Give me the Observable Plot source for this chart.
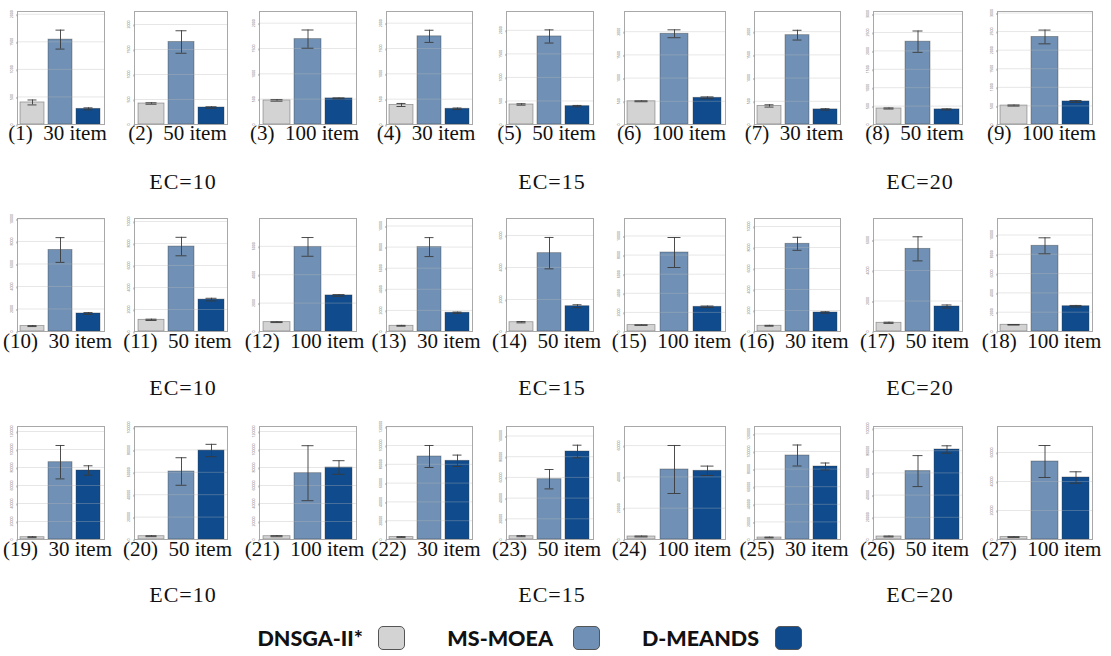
<!DOCTYPE html>
<html><head><meta charset="utf-8">
<script src="https://cdn.jsdelivr.net/npm/d3@7"></script>
<script src="https://cdn.jsdelivr.net/npm/@observablehq/plot@0.6"></script>
<style>
body{margin:0;background:#fff;}
#root{position:relative;width:1111px;height:656px;overflow:hidden;background:#fff;}
.panel{position:absolute;}
.cap{position:absolute;font-family:"Liberation Serif",serif;font-size:21px;line-height:21px;white-space:pre;transform:translateX(-50%);color:#111;}
.ec{position:absolute;font-family:"Liberation Serif",serif;font-size:22px;line-height:22px;letter-spacing:1px;white-space:pre;transform:translateX(-50%);color:#111;}
.lgtext{position:absolute;font-family:Lato,"Open Sans",sans-serif;font-weight:900;font-size:21.5px;line-height:24px;color:#111;white-space:nowrap;}
.sw{position:absolute;width:27px;height:24px;border:1.5px solid #555;border-radius:5px;box-sizing:border-box;}
</style></head><body><div id="root"></div>
<script>
const algorithms = ["DNSGA-II*", "MS-MOEA", "D-MEANDS"];
const itemSizes = ["30 item", "50 item", "100 item"];
const ecLabels = ["EC=10", "EC=15", "EC=20"];

// y-axis top value and tick step for each of the 27 sub-charts
const axisMax = [2050, 2260, 2230, 2230, 2400, 2435, 2435, 3070, 3040,
  10040, 10270, 7960, 10710, 7060, 11830, 10760, 7410, 11710,
  125560, 100890, 125560, 120210, 109180, 72200, 128410, 101800, 77930];
const tickStep = [500, 500, 500, 500, 500, 500, 500, 500, 500,
  2000, 2000, 2000, 2000, 2000, 2000, 2000, 2000, 2000,
  20000, 20000, 20000, 20000, 20000, 20000, 20000, 20000, 20000];

const dnsgaMean = [400, 420, 475, 385, 425, 500, 400, 435, 510,
  480, 1060, 660, 540, 580, 670, 545, 570, 695,
  2560, 2950, 3670, 2550, 3190, 1920, 2270, 2700, 1655];
const dnsgaErr = [45, 15, 15, 30, 15, 10, 25, 15, 15,
  40, 60, 30, 40, 40, 30, 40, 40, 30,
  500, 400, 600, 500, 500, 300, 400, 400, 300];
const msMean = [1540, 1650, 1685, 1740, 1870, 1955, 1925, 2250, 2355,
  7240, 7720, 5960, 8000, 4895, 8270, 8350, 5420, 8880,
  85890, 60710, 73670, 88300, 58260, 44730, 95450, 61620, 53790];
const msErr = [172, 225, 180, 120, 140, 85, 105, 290, 185,
  1100, 840, 660, 900, 980, 1570, 620, 790, 830,
  18560, 12300, 30560, 11700, 9370, 15340, 11930, 13960, 11030];
const dmMean = [284, 340, 515, 310, 390, 575, 325, 410, 620,
  1600, 2900, 2540, 1780, 1580, 2585, 1810, 1640, 2620,
  76670, 79460, 80000, 83720, 85020, 43900, 82950, 81080, 42760];
const dmErr = [18, 15, 10, 15, 15, 20, 15, 15, 25,
  80, 120, 60, 60, 90, 80, 70, 100, 80,
  5220, 5500, 7560, 6060, 6090, 3000, 3980, 3330, 3930];

const colors = ["#d3d3d3", "#7091b5", "#0f4b8d"];

// layout
const colLeft = [17, 134, 259, 386, 506, 624, 754, 873, 997];
const colRight = [104, 227, 356, 472, 593, 725, 840, 962, 1092];
const rowTop = [11, 217.5, 426];
const capBase = [141, 349, 557];
const ecBase = [189, 395, 602];
const H = 113, mL = 12, mR = 1, mT = 1, mB = 1;

const root = document.getElementById("root");
const means = [dnsgaMean, msMean, dmMean];
const errs = [dnsgaErr, msErr, dmErr];

for (let i = 0; i < 27; i++) {
  const r = Math.floor(i / 9), c = i % 9;
  const data = algorithms.map((a, k) => ({alg: a, mean: means[k][i], err: errs[k][i]}));
  const ticks = d3.range(0, axisMax[i] + 1e-6, tickStep[i]);
  const w = colRight[c] - colLeft[c];
  const svg = Plot.plot({
    width: w + mL + mR, height: H + mT + mB,
    marginLeft: mL, marginRight: mR, marginTop: mT, marginBottom: mB,
    x: {domain: algorithms, paddingInner: 0.14, paddingOuter: 0.09, axis: null},
    y: {domain: [0, axisMax[i]], axis: null},
    color: {domain: algorithms, range: colors},
    style: {background: "transparent", overflow: "visible"},
    marks: [
      Plot.barY(data, {x: "alg", y: "mean", fill: "alg", stroke: "#333", strokeOpacity: 0.45, strokeWidth: 0.8}),
      Plot.gridY(ticks, {stroke: "#b8b8b8", strokeOpacity: 0.35}),
      Plot.ruleX(data, {x: "alg", y1: d => d.mean - d.err, y2: d => d.mean + d.err, stroke: "#3a3a3a", strokeWidth: 0.9}),
      Plot.tickY(data, {x: "alg", y: d => d.mean + d.err, inset: 7.5, stroke: "#3a3a3a", strokeWidth: 0.9}),
      Plot.tickY(data, {x: "alg", y: d => d.mean - d.err, inset: 7.5, stroke: "#3a3a3a", strokeWidth: 0.9}),
      Plot.frame({stroke: "#a8a8a8", strokeWidth: 1}),
      Plot.axisY({ticks, tickSize: 2, tickPadding: 4, fontSize: 3.5, rotate: -90, textAnchor: "middle", stroke: "#999", fill: "#777", label: null, tickFormat: d3.format("d")})
    ]
  });
  svg.classList.add("panel");
  svg.style.left = (colLeft[c] - mL) + "px";
  svg.style.top = (rowTop[r] - mT) + "px";
  root.appendChild(svg);

  const cap = document.createElement("div");
  cap.className = "cap";
  cap.textContent = `(${i + 1})  ${itemSizes[c % 3]}`;
  cap.style.left = ((colLeft[c] + colRight[c]) / 2 - 3) + "px";
  cap.style.top = (capBase[r] - 17.6) + "px";
  root.appendChild(cap);
}

const ecCenters = [183, 552, 920];
for (let r = 0; r < 3; r++) {
  for (let g = 0; g < 3; g++) {
    const d = document.createElement("div");
    d.className = "ec";
    d.textContent = ecLabels[g];
    d.style.left = ecCenters[g] + "px";
    d.style.top = (ecBase[r] - 18.4) + "px";
    root.appendChild(d);
  }
}

// legend
const lgTextRight = [363, 553, 759];
const lgSwLeft = [378, 573, 775];
algorithms.forEach((a, k) => {
  const t = document.createElement("div");
  t.className = "lgtext";
  t.textContent = a;
  t.style.right = (1111 - lgTextRight[k]) + "px";
  t.style.top = "626px";
  root.appendChild(t);
  const s = document.createElement("div");
  s.className = "sw";
  s.style.left = lgSwLeft[k] + "px";
  s.style.top = "626px";
  s.style.background = colors[k];
  root.appendChild(s);
});
</script></body></html>
